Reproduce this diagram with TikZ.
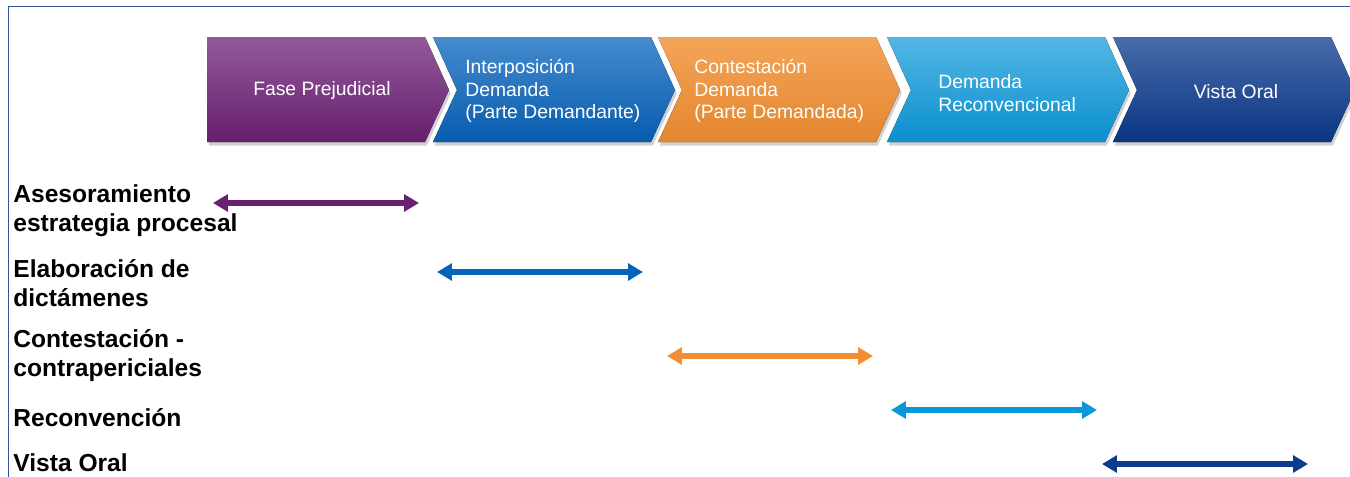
\documentclass[tikz,border=0pt]{standalone}
\usepackage{fontspec}
\setmainfont{Liberation Sans}
\usetikzlibrary{arrows.meta,shadows}

\definecolor{fasepurple}{HTML}{6E2277}
\definecolor{faseblue}{HTML}{0764BD}
\definecolor{faseorange}{HTML}{F28E30}
\definecolor{faselight}{HTML}{0A98DA}
\definecolor{fasenavy}{HTML}{0B3A8E}
\definecolor{framecol}{HTML}{2F5597}

\tikzset{
  chev/.style={draw=none, drop shadow={shadow xshift=1pt,shadow yshift=-2pt,opacity=.35}},
  chevtext/.style={text=white, font=\fontsize{11}{13}\selectfont, inner sep=0pt},
  rowlabel/.style={font=\fontsize{14}{16.5}\selectfont\bfseries, anchor=west, align=left, inner sep=0pt},
  span/.style={line width=3.4pt, arrows={Triangle[length=8.5pt,width=9.5pt]-Triangle[length=8.5pt,width=9.5pt]}},
}

\begin{document}
\begin{tikzpicture}[x=0.02cm,y=-0.02cm]
\useasboundingbox (0,0) rectangle (1350,477);
\fill[white] (0,0) rectangle (1350,477);
\draw[framecol,thin] (8,477) -- (8,6) -- (1350,6);

%---------------------------------------------------
\fill[chev,top color=fasepurple!75!white,middle color=fasepurple,bottom color=fasepurple!92!black]
  (207,37) -- (425,37) -- (449,90) -- (425,142) -- (207,142) -- cycle;
\fill[chev,top color=faseblue!75!white,middle color=faseblue,bottom color=faseblue!92!black]
  (433,37) -- (651,37) -- (675,90) -- (651,142) -- (433,142) -- (457,90) -- cycle;
\fill[chev,top color=faseorange!80!white,middle color=faseorange,bottom color=faseorange!94!black]
  (658,37) -- (876,37) -- (900,90) -- (876,142) -- (658,142) -- (682,90) -- cycle;
\fill[chev,top color=faselight!70!white,middle color=faselight,bottom color=faselight!94!black]
  (887,37) -- (1105,37) -- (1129,90) -- (1105,142) -- (887,142) -- (911,90) -- cycle;
\fill[chev,top color=fasenavy!75!white,middle color=fasenavy,bottom color=fasenavy!92!black]
  (1113,37) -- (1331,37) -- (1355,90) -- (1331,142) -- (1113,142) -- (1137,90) -- cycle;

\node[chevtext] (fase) at (322,91) {Fase Prejudicial};
\node[chevtext,anchor=west,align=left] (interp) at (465,91) {Interposición\\Demanda\\(Parte Demandante)};
\node[chevtext,anchor=west,align=left] (contest) at (694,91) {Contestación\\Demanda\\(Parte Demandada)};
\node[chevtext,anchor=west,align=left] (reconv) at (938,93) {Demanda\\Reconvencional};
\node[chevtext] (vista) at (1236,92) {Vista Oral};

%---------------------------------------------------
\node[rowlabel] (asesor) at (13,211) {Asesoramiento\\estrategia procesal};
\node[rowlabel] (dictam) at (13,283) {Elaboración de\\dictámenes};
\node[rowlabel] (contra) at (13,356) {Contestación -\\contrapericiales};
\node[rowlabel] (reconlab) at (13,418) {Reconvención};
\node[rowlabel] (vistalab) at (13,463) {Vista Oral};

%---------------------------------------------------
\coordinate (s1a) at (213,203);  \coordinate (s1b) at (419,203);
\coordinate (s2a) at (437,272);  \coordinate (s2b) at (643,272);
\coordinate (s3a) at (667,356);  \coordinate (s3b) at (873,356);
\coordinate (s4a) at (891,410);  \coordinate (s4b) at (1097,410);
\coordinate (s5a) at (1102,464); \coordinate (s5b) at (1308,464);

\draw[span,fasepurple!95!black] (s1a) -- (s1b);
\draw[span,faseblue] (s2a) -- (s2b);
\draw[span,faseorange] (s3a) -- (s3b);
\draw[span,faselight] (s4a) -- (s4b);
\draw[span,fasenavy] (s5a) -- (s5b);

\end{tikzpicture}
\end{document}
